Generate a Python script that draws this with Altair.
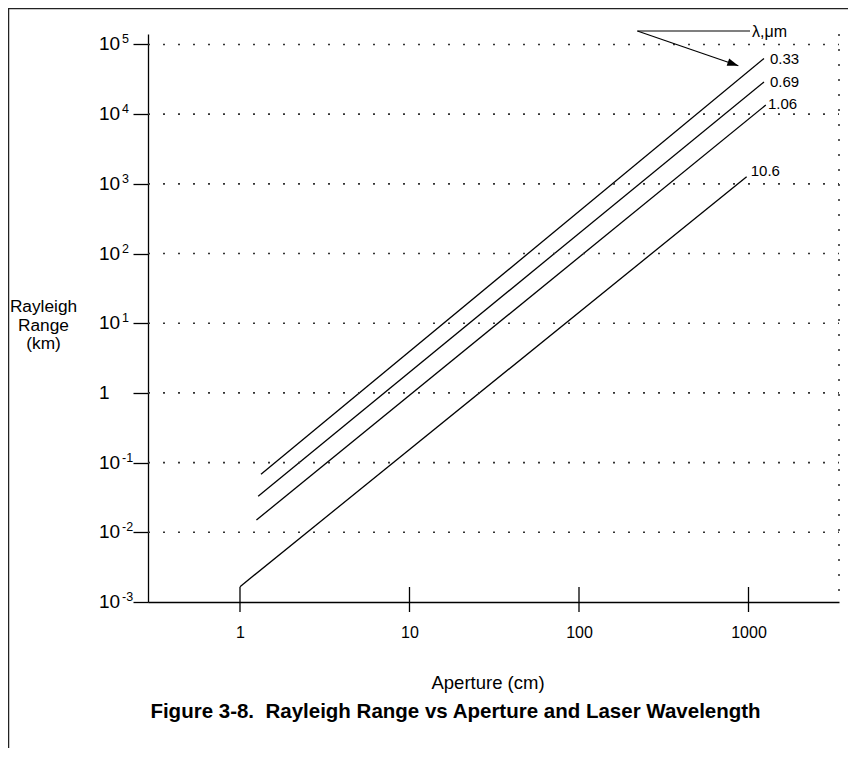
import altair as alt
import pandas as pd

# ---- data ----
wavelengths = ["0.33", "0.69", "1.06", "10.6"]
aperture_start = [1.33, 1.28, 1.25, 1.0]
range_start = [0.068, 0.033, 0.015, 0.00166]
aperture_end = [1234, 1234, 1265, 975]
range_end = [63000, 29000, 13500, 1265]
label_aperture = [1339, 1339, 1303, 1031]
label_range = [61200, 29200, 13980, 1543]

x_ticks = [1, 10, 100, 1000]
y_ticks = [1e-3, 1e-2, 1e-1, 1, 1e1, 1e2, 1e3, 1e4, 1e5]
y_bases = ["10", "10", "10", "1", "10", "10", "10", "10", "10"]
y_exps = ["-3", "-2", "-1", "", "1", "2", "3", "4", "5"]
grid_values = [1e-2, 1e-1, 1, 1e1, 1e2, 1e3, 1e4, 1e5]

legend_title = "λ,μm"
legend_title_at = [1049, 149300]
arrow_start = [221, 156000]
arrow_bar_end = [1021, 156000]
arrow_tip = [871, 49550]

x_title = "Aperture (cm)"
y_title = ["Rayleigh", "Range", "(km)"]
fig_title = "Figure 3-8.\u00a0 Rayleigh Range vs Aperture and Laser Wavelength"

# ---- layout ----
W, H = 691, 568
FONT = "Liberation Sans"
xscale = alt.Scale(type="log", domain=[0.2866, 3419], nice=False)
yscale = alt.Scale(type="log", domain=[0.001, 141254], nice=False)

x_axis = alt.Axis(values=x_ticks, format="d", ticks=False, labelPadding=22, labelFontSize=16,
                  labelFont=FONT, labelColor="black", domainColor="black", domainWidth=1.3,
                  grid=False, title=None)
y_axis = alt.Axis(values=y_ticks, labels=False, ticks=True, tickSize=15, tickColor="black",
                  tickWidth=1.3, domainColor="black", domainWidth=1.3, grid=False, title=None)


def X(field):
    return alt.X(field, scale=xscale, axis=x_axis)


def Y(field):
    return alt.Y(field, scale=yscale, axis=y_axis)


rows = []
for w, a0, r0, a1, r1 in zip(wavelengths, aperture_start, range_start, aperture_end, range_end):
    rows.append({"wl": w, "aperture": a0, "range": r0})
    rows.append({"wl": w, "aperture": a1, "range": r1})
lines_df = pd.DataFrame(rows)
labels_df = pd.DataFrame({"wl": wavelengths, "aperture": label_aperture, "range": label_range})
ytick_df = pd.DataFrame({"v": y_ticks, "base": y_bases, "exp": y_exps})
grid_df = pd.DataFrame({"v": grid_values})
xtick_df = pd.DataFrame({"t": x_ticks})
arrow_df = pd.DataFrame({
    "x": [arrow_start[0], arrow_start[0]],
    "y": [arrow_start[1], arrow_start[1]],
    "x2": [arrow_bar_end[0], arrow_tip[0]],
    "y2": [arrow_bar_end[1], arrow_tip[1]],
})
tip_df = pd.DataFrame({"x": [arrow_tip[0]], "y": [arrow_tip[1]]})
legend_df = pd.DataFrame({"x": [legend_title_at[0]], "y": [legend_title_at[1]], "t": [legend_title]})
one = pd.DataFrame({"a": [0]})

lines = alt.Chart(lines_df).mark_line(color="black", strokeWidth=1.3).encode(
    x=X("aperture:Q"), y=Y("range:Q"), detail="wl:N")

grid = alt.Chart(grid_df).mark_rule(strokeDash=[2, 13], strokeWidth=1.6, color="#333").encode(
    y=Y("v:Q"), x=alt.value(0), x2=alt.value(W))

right_dots = alt.Chart(one).mark_rule(strokeDash=[2, 13], strokeWidth=1.6, color="#333").encode(
    x=alt.value(W), y=alt.value(0), y2=alt.value(H))

xticks = alt.Chart(xtick_df).mark_rule(color="black", strokeWidth=1.3).encode(
    x=X("t:Q"), y=alt.value(553), y2=alt.value(578))

ybase = alt.Chart(ytick_df).mark_text(align="left", baseline="middle", fontSize=19, font=FONT,
                                      color="black").encode(
    y=Y("v:Q"), x=alt.value(-49), text="base:N")
yexp = alt.Chart(ytick_df).mark_text(align="left", baseline="middle", fontSize=12.5, font=FONT,
                                     color="black", dy=-5).encode(
    y=Y("v:Q"), x=alt.value(-26), text="exp:N")

wl_labels = alt.Chart(labels_df).mark_text(align="left", baseline="middle", fontSize=15, font=FONT,
                                           color="black").encode(
    x=X("aperture:Q"), y=Y("range:Q"), text="wl:N")

legend_text = alt.Chart(legend_df).mark_text(align="left", baseline="middle", fontSize=16, font=FONT,
                                             color="black").encode(
    x=X("x:Q"), y=Y("y:Q"), text="t:N")

arrow = alt.Chart(arrow_df).mark_rule(color="black", strokeWidth=1.2).encode(
    x=X("x:Q"), y=Y("y:Q"), x2="x2:Q", y2="y2:Q")

tip = alt.Chart(tip_df).mark_point(shape="M0,0 L-2,-0.7 L-2,0.7 Z", size=121, filled=True,
                                   color="black", opacity=1, angle=19, strokeWidth=0).encode(
    x=X("x:Q"), y=Y("y:Q"))

xtitle = alt.Chart(one).mark_text(align="center", baseline="middle", fontSize=18.5, font=FONT,
                                  color="black", text=x_title).encode(
    x=alt.value(340), y=alt.value(649))
ytitle = alt.Chart(one).mark_text(align="center", baseline="middle", fontSize=17.3, font=FONT,
                                  color="black", lineHeight=18.5, text=y_title).encode(
    x=alt.value(-104.5), y=alt.value(273))
title = alt.Chart(one).mark_text(align="center", baseline="middle", fontSize=20.5, font=FONT,
                                 fontWeight="bold", color="black", text=fig_title).encode(
    x=alt.value(307.5), y=alt.value(678))

border_top = alt.Chart(one).mark_rule(color="#222", strokeWidth=1.5).encode(
    x=alt.value(-139), x2=alt.value(W + 9), y=alt.value(-25.5))
border_left = alt.Chart(one).mark_rule(color="#222", strokeWidth=1.5).encode(
    x=alt.value(-139.5), y=alt.value(-26), y2=alt.value(H + 146))

chart = alt.layer(
    lines, grid, right_dots, xticks, ybase, yexp, wl_labels, legend_text, arrow, tip,
    xtitle, ytitle, title, border_top, border_left
).properties(
    width=W, height=H,
    autosize=alt.AutoSizeParams(type="none"),
    padding={"left": 140, "top": 26, "right": 9, "bottom": 146},
    background="white",
).configure_view(strokeWidth=0)

chart.save("out.html", embed_options={"renderer": "svg", "actions": False})
